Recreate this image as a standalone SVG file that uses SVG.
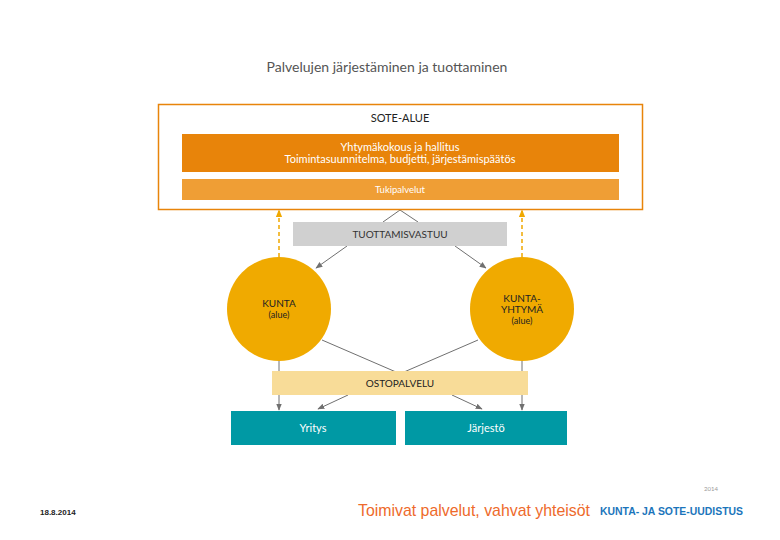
<svg xmlns="http://www.w3.org/2000/svg" width="780" height="540" viewBox="0 0 780 540">
<defs>
<style>
text{font-family:Lato,"Liberation Sans",sans-serif;text-anchor:middle}
.conn{stroke:#707070;stroke-width:1;fill:none}
.dash{stroke:#F0A800;stroke-width:1.5;stroke-dasharray:4,3;fill:none}
.circ{fill:#F0AA00}
.teal{fill:#0099A4}
.wt{fill:#fff}
.dk{fill:#222}
</style>
<marker id="ag" viewBox="0 0 10 10" refX="9" refY="5" markerWidth="7" markerHeight="7" orient="auto" markerUnits="userSpaceOnUse"><path d="M0,1 L10,5 L0,9 z" fill="#707070"/></marker>
<marker id="ao" viewBox="0 0 10 10" refX="9" refY="5" markerWidth="8" markerHeight="8" orient="auto" markerUnits="userSpaceOnUse"><path d="M0,1 L10,5 L0,9 z" fill="#F0A800"/></marker>
</defs>
<rect width="780" height="540" fill="#fff"/>
<text x="387" y="72" font-size="14" fill="#555">Palvelujen järjestäminen ja tuottaminen</text>

<g id="connectors">
<polyline class="conn" points="383,222 400,210 418,222"/>
<line class="conn" x1="347" y1="246" x2="316" y2="268" marker-end="url(#ag)"/>
<line class="conn" x1="455" y1="246" x2="486" y2="268" marker-end="url(#ag)"/>
<line class="dash" x1="279" y1="257" x2="279" y2="210" marker-end="url(#ao)"/>
<line class="dash" x1="522" y1="257" x2="522" y2="210" marker-end="url(#ao)"/>
<line class="conn" x1="322" y1="340" x2="396" y2="372"/>
<line class="conn" x1="478" y1="340" x2="404" y2="372"/>
<line class="conn" x1="279" y1="361" x2="279" y2="410" marker-end="url(#ag)"/>
<line class="conn" x1="522" y1="361" x2="522" y2="410" marker-end="url(#ag)"/>
<line class="conn" x1="348" y1="395" x2="318" y2="409" marker-end="url(#ag)"/>
<line class="conn" x1="452" y1="395" x2="482" y2="409" marker-end="url(#ag)"/>
</g>

<g id="sote-alue">
<rect x="158.5" y="104.5" width="484" height="105" fill="none" stroke="#E8840A" stroke-width="1.5"/>
<text x="400" y="122" font-size="11" class="dk">SOTE-ALUE</text>
</g>
<g id="yhtymakokous">
<rect x="182" y="134" width="437" height="38" fill="#E8840A"/>
<text x="400" y="151" font-size="11" class="wt">Yhtymäkokous ja hallitus</text>
<text x="400" y="163" font-size="11" class="wt">Toimintasuunnitelma, budjetti, järjestämispäätös</text>
</g>
<g id="tukipalvelut">
<rect x="182" y="179" width="437" height="21" fill="#EF9E35"/>
<text x="400" y="193" font-size="9.5" class="wt">Tukipalvelut</text>
</g>
<g id="tuottamisvastuu">
<rect x="293" y="222" width="214" height="24" fill="#D0D0D0"/>
<text x="400" y="238" font-size="10" fill="#333">TUOTTAMISVASTUU</text>
</g>
<g id="kunta">
<circle class="circ" cx="279" cy="309" r="52"/>
<text x="279" y="307" font-size="10" class="dk">KUNTA</text>
<text x="279" y="318" font-size="9" class="dk">(alue)</text>
</g>
<g id="kuntayhtyma">
<circle class="circ" cx="522" cy="309" r="52"/>
<text x="522" y="302" font-size="10" class="dk">KUNTA-</text>
<text x="522" y="313" font-size="10" class="dk">YHTYMÄ</text>
<text x="522" y="324" font-size="9" class="dk">(alue)</text>
</g>
<g id="ostopalvelu">
<rect x="272" y="371" width="256" height="24" fill="#F8DC98"/>
<text x="400" y="387" font-size="10" class="dk">OSTOPALVELU</text>
</g>
<g id="yritys">
<rect class="teal" x="231" y="411" width="165" height="34"/>
<text x="313" y="432" font-size="11" class="wt">Yritys</text>
</g>
<g id="jarjesto">
<rect class="teal" x="405" y="411" width="162" height="34"/>
<text x="486" y="432" font-size="11" class="wt">Järjestö</text>
</g>

<text x="711" y="491" font-size="6" fill="#999">2014</text>
<text x="40" y="515" font-size="8" font-weight="bold" fill="#222" style="text-anchor:start;font-family:'Liberation Sans',sans-serif">18.8.2014</text>
<text x="358" y="516" font-size="17" fill="#EE6A2B" textLength="232" lengthAdjust="spacingAndGlyphs" style="text-anchor:start;font-family:'Liberation Sans',sans-serif">Toimivat palvelut, vahvat yhteisöt</text>
<text x="600" y="515" font-size="10" font-weight="bold" fill="#1B75BB" textLength="143" lengthAdjust="spacingAndGlyphs" style="text-anchor:start;font-family:'Liberation Sans',sans-serif">KUNTA- JA SOTE-UUDISTUS</text>
</svg>
